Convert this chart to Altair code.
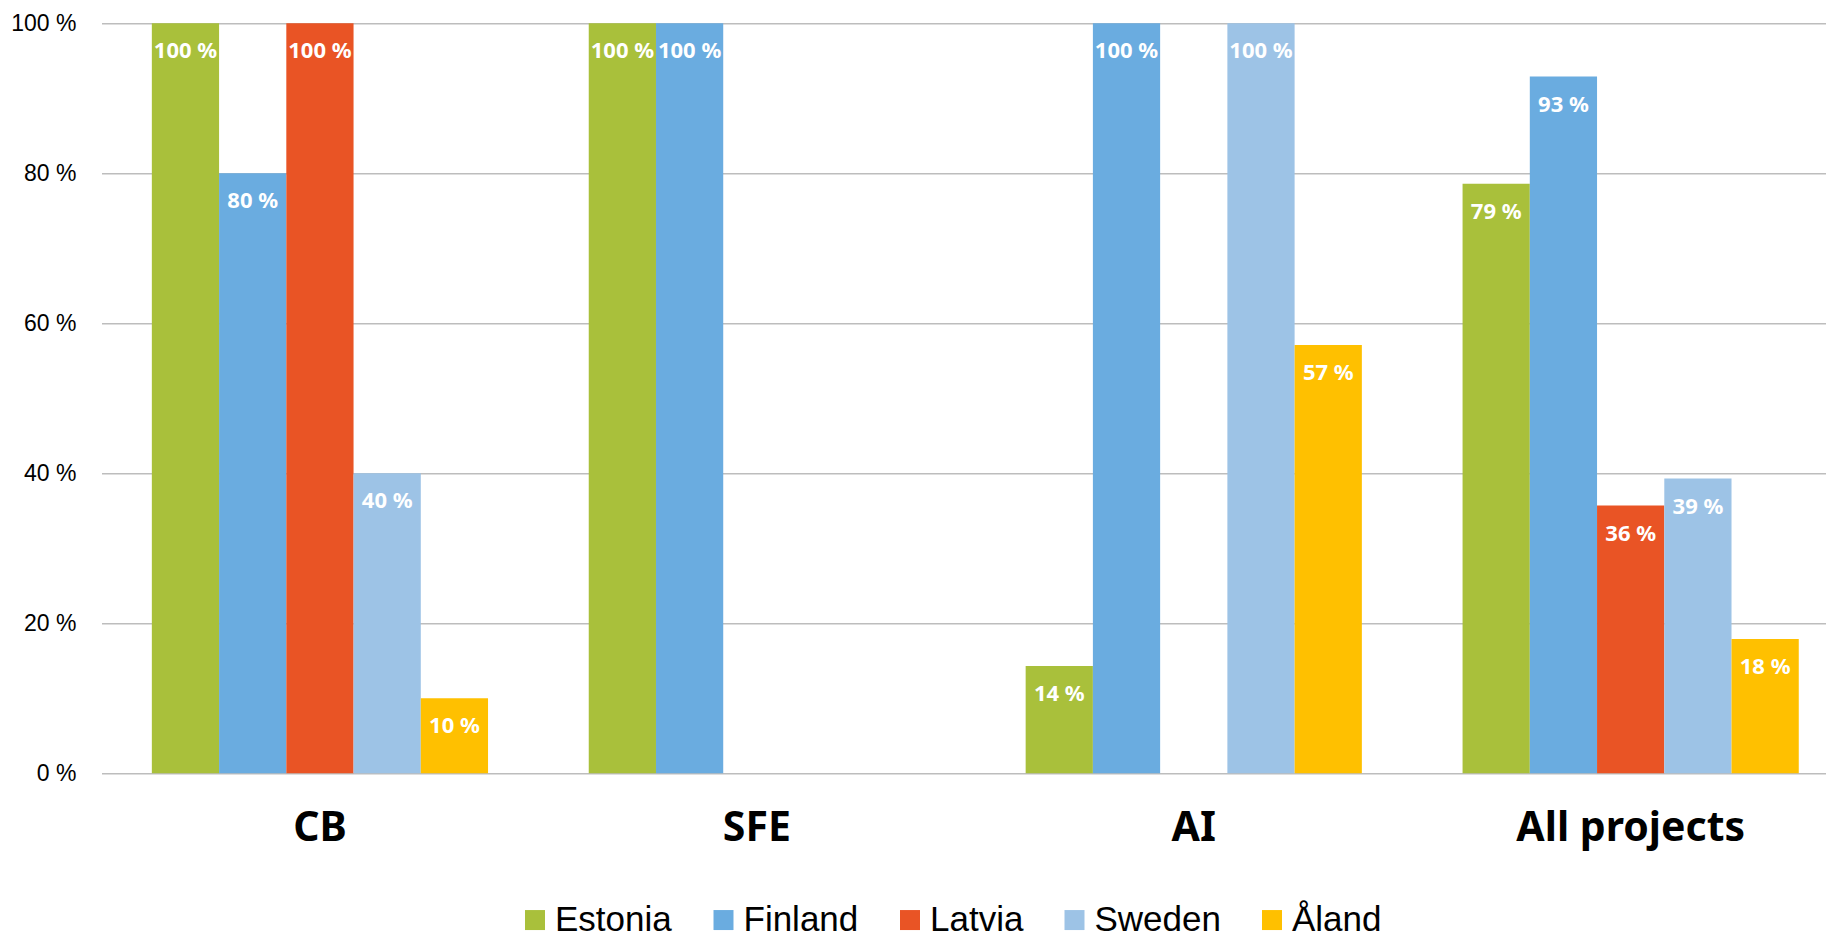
import altair as alt
import pandas as pd

groups = ["CB", "SFE", "AI", "All projects"]
countries = ["Estonia", "Finland", "Latvia", "Sweden", "Åland"]
colors = ["#A9C03B", "#6AACE0", "#E95425", "#9DC3E6", "#FFC000"]

cb = [100, 80, 100, 40, 10]
sfe = [100, 100, None, None, None]
ai = [14.3, 100, None, 100, 57.1]
all_projects = [78.6, 92.9, 35.7, 39.3, 17.9]

rows = []
for g, vals in zip(groups, [cb, sfe, ai, all_projects]):
    for c, v in zip(countries, vals):
        if v is not None:
            rows.append({"group": g, "country": c, "value": v})
df = pd.DataFrame(rows)

FONT = "Noto Sans"
FONT2 = "Liberation Sans"

x = alt.X(
    "group:N",
    sort=groups,
    scale=alt.Scale(domain=groups, range=[0, 1747.6], paddingInner=0.2305, paddingOuter=0.1152),
    axis=alt.Axis(
        title=None, labelAngle=0, labelFontSize=41, labelFont=FONT, labelFontWeight="bold",
        labelColor="black", domain=False, ticks=False, tickSize=0, labelPadding=66.7,
        labelBaseline="alphabetic", labelLimit=1000,
    ),
)
xo = alt.XOffset("country:N", sort=countries,
                 scale=alt.Scale(domain=countries, paddingInner=0, paddingOuter=0))
y = alt.Y(
    "value:Q",
    scale=alt.Scale(domain=[0, 100], nice=False),
    axis=alt.Axis(
        title=None, values=[0, 20, 40, 60, 80, 100], labelExpr="datum.value + ' %'",
        grid=True, gridColor="#BDBDBD", gridWidth=1.5, domain=False, ticks=False, tickSize=0,
        labelFontSize=23, labelFont=FONT2, labelColor="black", labelPadding=25.5,
    ),
)

base = alt.Chart(df)

bars = base.mark_bar().encode(
    x=x, xOffset=xo, y=y,
    color=alt.Color(
        "country:N", sort=countries,
        scale=alt.Scale(domain=countries, range=colors),
        legend=alt.Legend(
            orient="none", legendX=416, legendY=879, direction="horizontal", columns=5,
            title=None, symbolType="square", symbolSize=400, symbolStrokeWidth=0,
            symbolOpacity=1, labelFontSize=35, labelFont=FONT2, labelColor="black",
            labelOffset=2.5, columnPadding=33.5, padding=0, labelLimit=400,
        ),
    ),
)

labels = base.mark_text(
    baseline="alphabetic", dy=35, color="white", fontWeight="bold", fontSize=22, font=FONT
).encode(
    x=x, xOffset=xo, y=y,
    text="label:N",
).transform_calculate(label="format(datum.value, '.0f') + ' %'")

chart = (
    alt.layer(bars, labels)
    .properties(
        width=1724.5, height=750,
        autosize=alt.AutoSizeParams(type="none"),
        padding={"left": 93.5, "top": 15.3, "right": 0, "bottom": 165.7},
    )
    .configure_view(stroke=None)
)

chart.save("out.html", embed_options={"renderer": "svg", "actions": False})
